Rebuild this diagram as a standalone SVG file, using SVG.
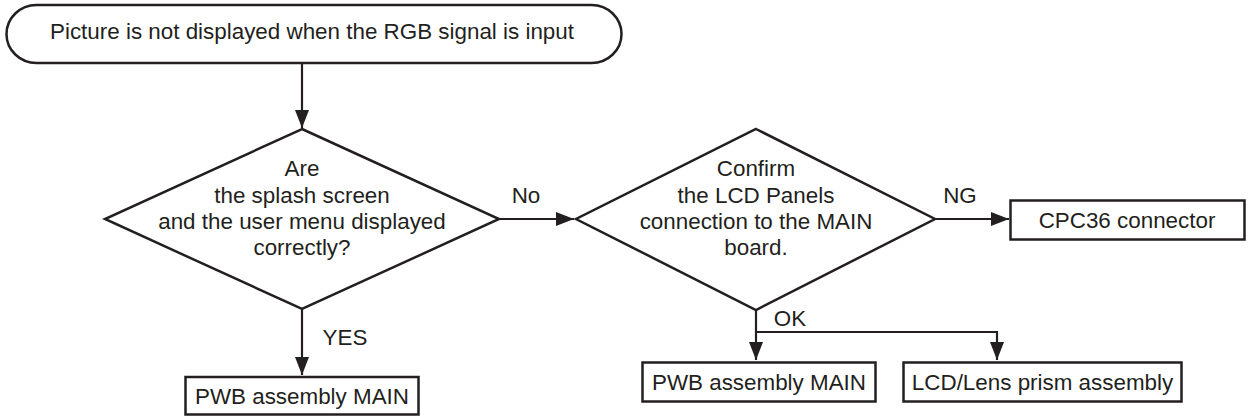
<svg xmlns="http://www.w3.org/2000/svg" width="1248" height="416" viewBox="0 0 1248 416">
<style>
text{font-family:"Liberation Sans",Arial,Helvetica,sans-serif;font-size:22.4px;fill:#231f20;text-anchor:middle}
.shape{fill:#fff;stroke:#231f20;stroke-width:2.5}
.conn{fill:none;stroke:#231f20;stroke-width:2.2}
</style>
<defs>
<marker id="arr" markerUnits="userSpaceOnUse" markerWidth="20" markerHeight="14" viewBox="0 0 20 14" refX="18" refY="7" orient="auto">
<path d="M0,0 L18,7 L0,14 Z" fill="#231f20"/>
</marker>
</defs>
<g id="connectors">
<line class="conn" x1="302" y1="63" x2="302" y2="128" marker-end="url(#arr)"/>
<line class="conn" x1="500" y1="219" x2="574" y2="219" marker-end="url(#arr)"/>
<line class="conn" x1="935" y1="219" x2="1009" y2="219" marker-end="url(#arr)"/>
<line class="conn" x1="302" y1="309" x2="302" y2="375" marker-end="url(#arr)"/>
<line class="conn" x1="756" y1="310" x2="756" y2="360" marker-end="url(#arr)"/>
<polyline class="conn" points="756,332 997,332 997,360" marker-end="url(#arr)"/>
<text x="526" y="203">No</text>
<text x="960" y="203">NG</text>
<text x="345" y="345">YES</text>
<text x="790" y="326">OK</text>
</g>
<g id="start">
<rect class="shape" x="6.5" y="5" width="615" height="58" rx="30" ry="29"/>
<text x="312" y="38.5">Picture is not displayed when the RGB signal is input</text>
</g>
<g id="decision1">
<polygon class="shape" points="302,129 499,219 302,309 105,219"/>
<text x="302" y="176">Are</text>
<text x="302" y="203">the splash screen</text>
<text x="302" y="229">and the user menu displayed</text>
<text x="302" y="255">correctly?</text>
</g>
<g id="decision2">
<polygon class="shape" points="756,129 935,219 756,310 576,219"/>
<text x="756" y="176">Confirm</text>
<text x="756" y="203">the LCD Panels</text>
<text x="756" y="229">connection to the MAIN</text>
<text x="756" y="255">board.</text>
</g>
<g id="cpc36">
<rect class="shape" x="1010.5" y="200.5" width="234" height="39"/>
<text x="1127" y="228">CPC36 connector</text>
</g>
<g id="pwb1">
<rect class="shape" x="185.5" y="377" width="233" height="37.5"/>
<text x="302" y="403.5">PWB assembly MAIN</text>
</g>
<g id="pwb2">
<rect class="shape" x="642.5" y="362.5" width="233" height="39"/>
<text x="759" y="390">PWB assembly MAIN</text>
</g>
<g id="lcd">
<rect class="shape" x="903.5" y="362.5" width="278" height="39"/>
<text x="1042.5" y="390">LCD/Lens prism assembly</text>
</g>
</svg>
